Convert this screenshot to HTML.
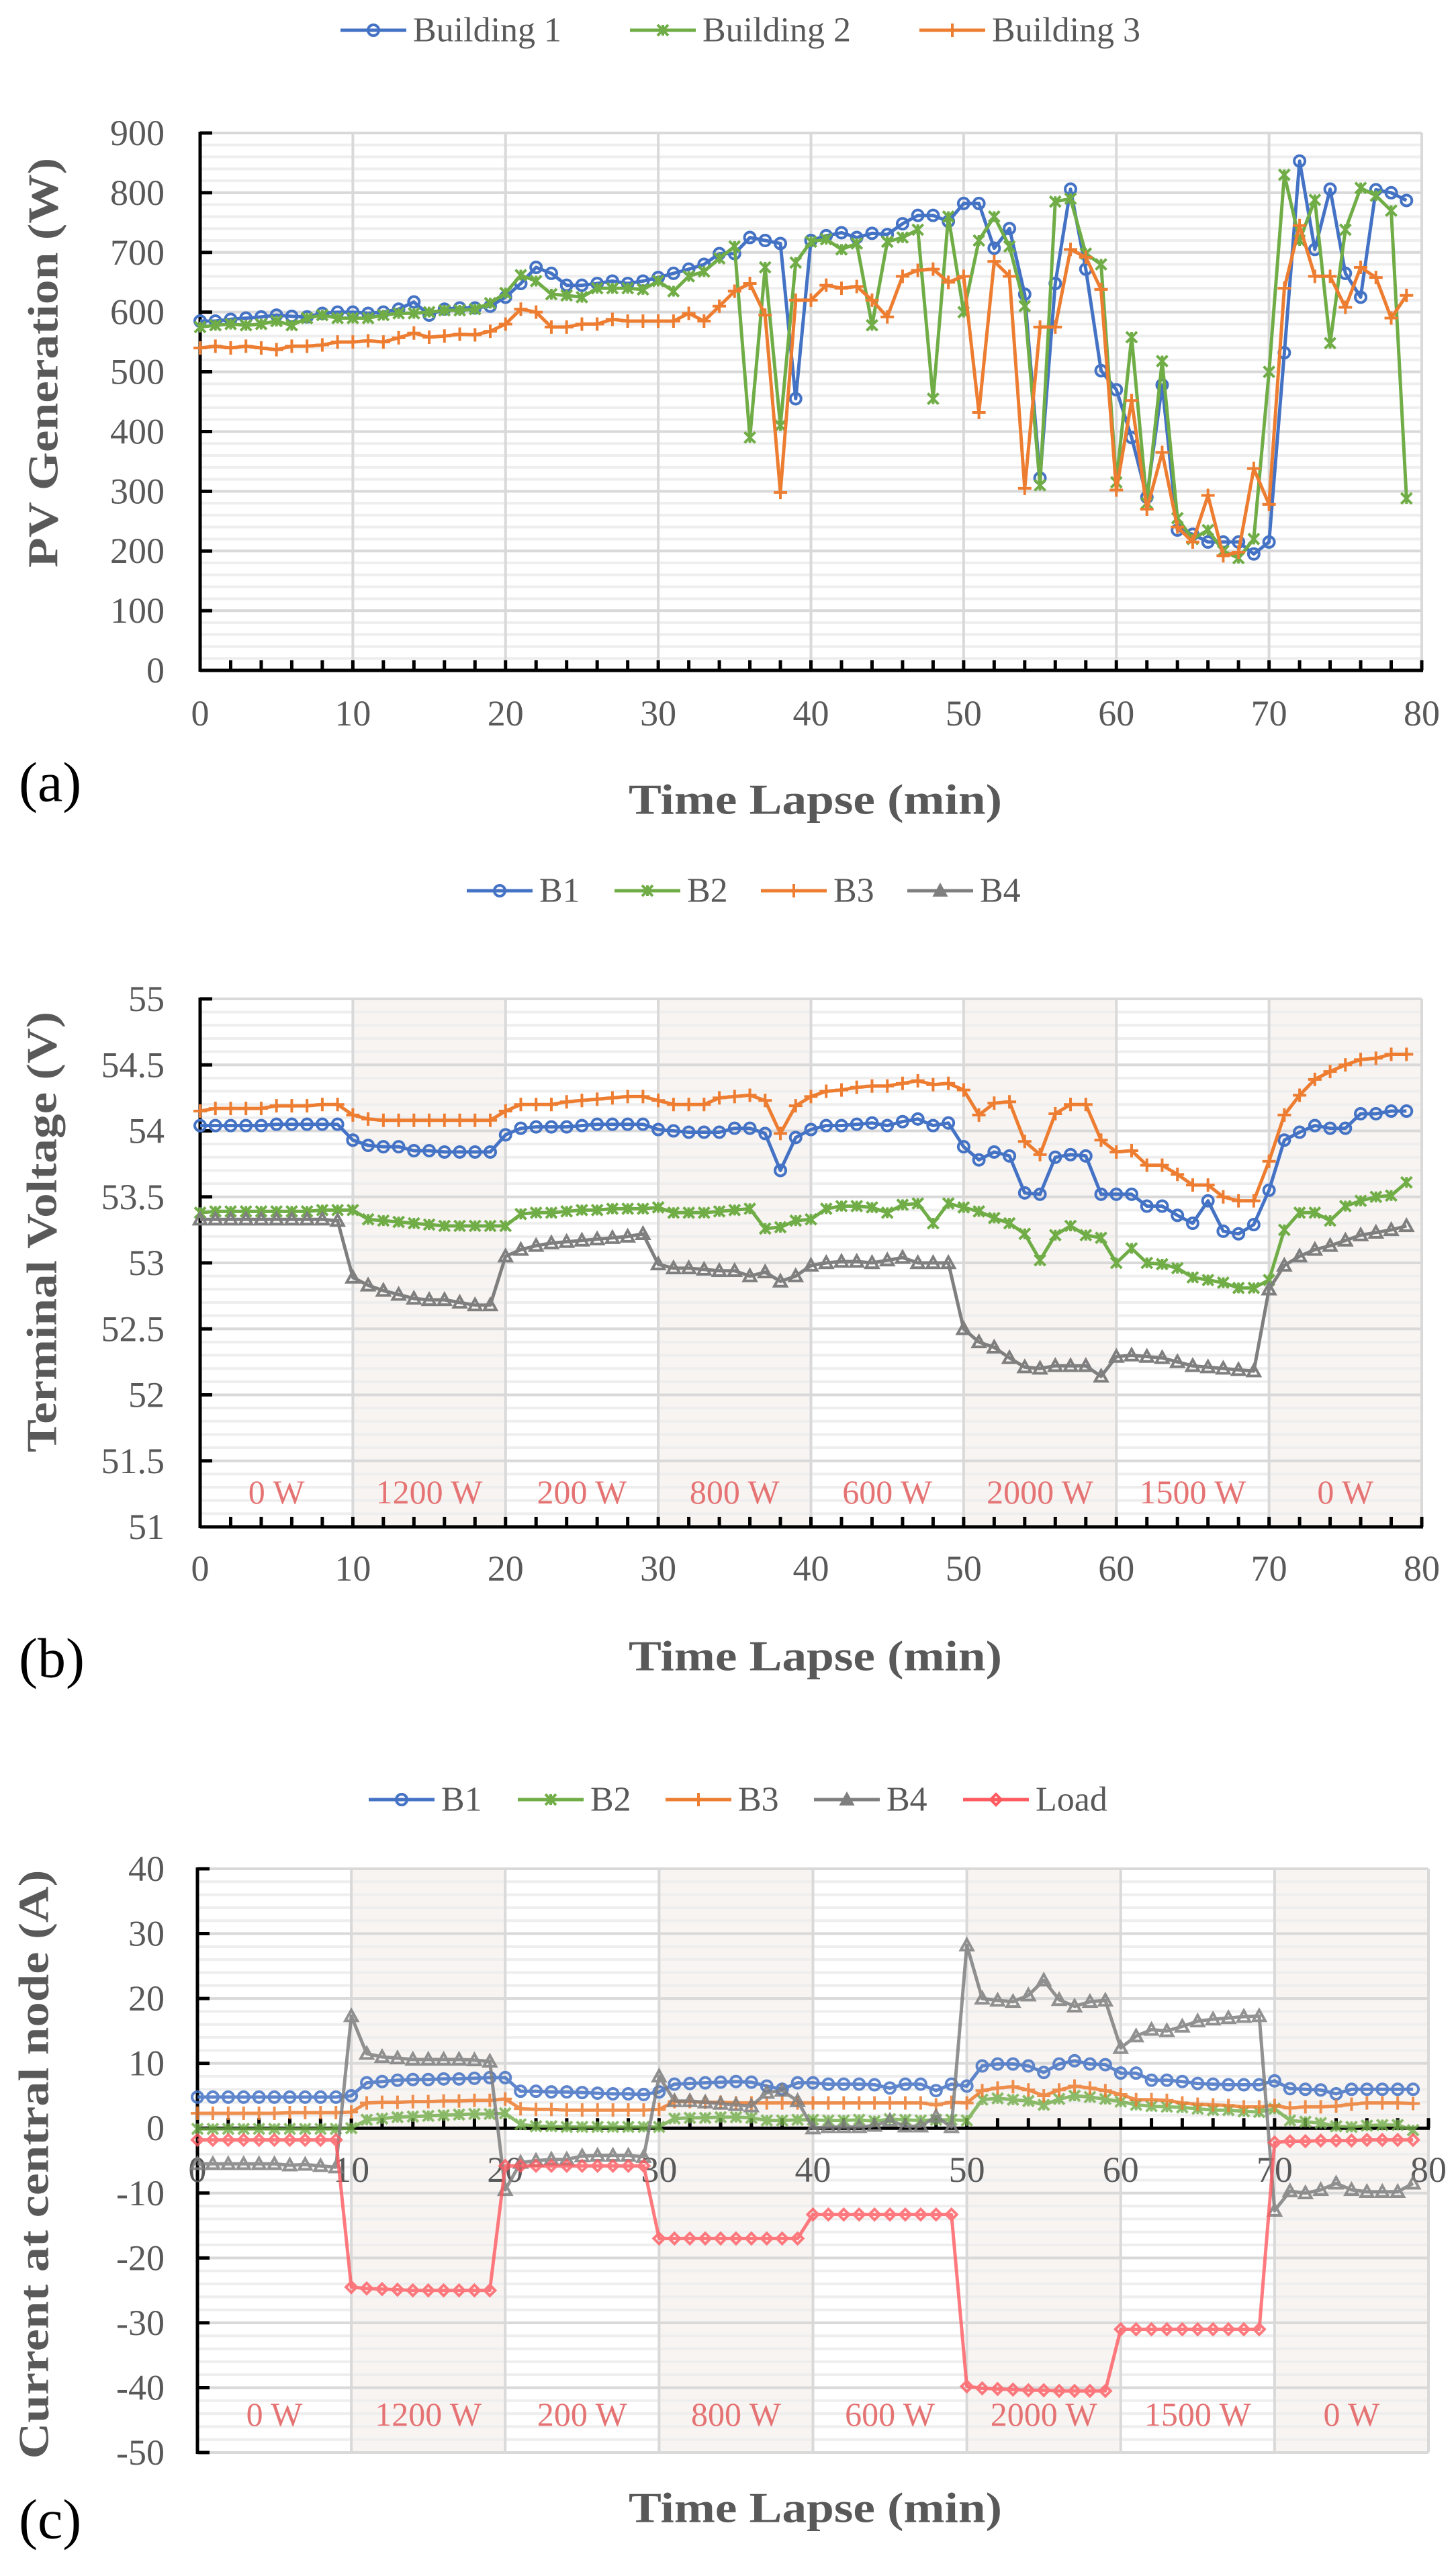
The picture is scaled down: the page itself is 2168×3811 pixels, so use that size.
<!DOCTYPE html>
<html><head><meta charset="utf-8"><title>PV charts</title>
<style>
html,body{margin:0;padding:0;background:#fff;}
svg{display:block;font-family:"Liberation Serif",serif;}
</style></head>
<body>
<svg id="fig" width="2168" height="3811" viewBox="0 0 2168 3811" xmlns="http://www.w3.org/2000/svg"></svg>
<script>
// ---------- data ----------
const minutes = Array.from({length:80},(_,i)=>i);
const loadLabels = ["0 W","1200 W","200 W","800 W","600 W","2000 W","1500 W","0 W"];

const pvB1 = [585,585,588,590,592,595,593,592,598,600,600,598,600,605,617,595,605,607,607,610,625,648,675,665,645,645,648,652,648,652,658,665,672,680,698,698,725,720,715,455,720,728,733,725,732,730,748,762,762,752,782,782,707,740,630,322,648,806,672,502,470,390,290,478,235,228,215,215,215,195,215,532,853,705,806,665,625,805,800,787];
const pvB2 = [575,578,580,578,580,585,578,590,595,590,590,590,595,598,598,600,603,603,605,615,632,662,652,630,628,625,640,640,640,638,652,635,660,668,690,710,390,675,410,683,718,722,705,715,578,718,725,738,455,760,600,720,760,710,610,310,785,790,698,680,315,558,280,518,255,220,235,200,188,220,500,830,720,788,548,738,808,795,770,288];
const pvB3 = [540,543,540,543,540,537,543,543,545,550,550,552,550,557,565,558,560,563,562,568,580,605,600,575,575,580,580,588,585,585,585,585,598,585,610,635,648,595,298,620,620,645,640,643,620,592,660,670,672,650,660,432,685,660,305,575,575,705,692,638,302,452,270,365,240,215,293,192,198,338,278,640,745,660,660,608,675,658,590,628];
const pvTicks = [0,100,200,300,400,500,600,700,800,900];

const vB1 = [54.04,54.04,54.04,54.04,54.04,54.05,54.05,54.05,54.05,54.05,53.93,53.89,53.88,53.88,53.85,53.85,53.84,53.84,53.84,53.84,53.97,54.02,54.03,54.03,54.03,54.04,54.05,54.05,54.05,54.05,54.01,54.0,53.99,53.99,53.99,54.02,54.02,53.98,53.7,53.95,54.01,54.04,54.04,54.05,54.06,54.04,54.07,54.09,54.04,54.06,53.88,53.78,53.84,53.81,53.53,53.52,53.8,53.82,53.81,53.52,53.52,53.52,53.43,53.43,53.36,53.3,53.47,53.24,53.22,53.29,53.55,53.93,53.99,54.04,54.02,54.02,54.13,54.13,54.15,54.15];
const vB2 = [53.38,53.39,53.39,53.39,53.39,53.39,53.39,53.39,53.4,53.4,53.4,53.33,53.32,53.31,53.3,53.29,53.28,53.28,53.28,53.28,53.28,53.37,53.38,53.38,53.39,53.4,53.4,53.41,53.41,53.41,53.42,53.38,53.38,53.38,53.39,53.4,53.41,53.26,53.27,53.32,53.33,53.41,53.43,53.43,53.42,53.38,53.44,53.45,53.3,53.45,53.42,53.39,53.34,53.3,53.22,53.02,53.21,53.28,53.21,53.19,53.0,53.11,53.0,52.99,52.96,52.89,52.87,52.85,52.81,52.81,52.87,53.25,53.38,53.38,53.32,53.43,53.47,53.5,53.51,53.61];
const vB3 = [54.15,54.17,54.17,54.17,54.17,54.19,54.19,54.19,54.2,54.2,54.12,54.09,54.08,54.08,54.08,54.08,54.08,54.08,54.08,54.08,54.15,54.2,54.2,54.2,54.22,54.23,54.24,54.25,54.26,54.26,54.23,54.2,54.2,54.2,54.25,54.26,54.27,54.23,53.98,54.19,54.26,54.3,54.31,54.33,54.34,54.34,54.36,54.38,54.35,54.36,54.31,54.12,54.21,54.22,53.92,53.82,54.13,54.2,54.2,53.93,53.84,53.85,53.74,53.74,53.67,53.59,53.59,53.5,53.47,53.47,53.77,54.12,54.27,54.39,54.45,54.5,54.54,54.55,54.58,54.58];
const vB4 = [53.33,53.33,53.33,53.33,53.33,53.33,53.33,53.33,53.33,53.32,52.89,52.83,52.79,52.76,52.73,52.72,52.72,52.7,52.68,52.68,53.05,53.1,53.13,53.15,53.16,53.17,53.18,53.19,53.2,53.22,52.99,52.96,52.96,52.95,52.94,52.94,52.9,52.93,52.86,52.9,52.98,53.0,53.01,53.01,53.0,53.02,53.04,53.0,53.0,53.0,52.5,52.4,52.36,52.28,52.21,52.2,52.22,52.22,52.22,52.14,52.29,52.3,52.29,52.28,52.25,52.22,52.21,52.2,52.19,52.18,52.8,52.98,53.05,53.1,53.13,53.17,53.21,53.23,53.25,53.28];
const vTicks = [51,51.5,52,52.5,53,53.5,54,54.5,55];

const iB1 = [4.8,4.8,4.8,4.8,4.8,4.8,4.8,4.8,4.8,4.8,5.0,7.0,7.2,7.4,7.5,7.5,7.6,7.6,7.7,7.8,7.8,5.7,5.7,5.6,5.6,5.5,5.4,5.3,5.3,5.2,5.6,6.8,6.9,7.0,7.1,7.2,7.1,6.5,6.0,7.0,7.0,6.8,6.8,6.8,6.7,6.2,6.8,6.8,5.8,6.8,6.5,9.6,9.9,9.9,9.6,8.6,9.9,10.4,9.9,9.8,8.5,8.5,7.4,7.4,7.2,6.9,6.8,6.7,6.7,6.7,7.3,6.1,6.0,5.9,5.3,6.0,6.0,6.0,6.0,6.0];
const iB2 = [-0.1,-0.1,-0.1,-0.1,-0.1,-0.1,-0.1,-0.1,-0.1,-0.1,0,1.3,1.5,1.7,1.8,1.9,2.0,2.1,2.2,2.2,2.3,0.6,0.3,0.3,0.2,0.2,0.2,0.2,0.2,0.2,0.2,1.5,1.6,1.6,1.7,1.7,1.6,1.2,1.2,1.3,1.3,1.2,1.2,1.3,1.1,1.4,1.3,1.2,1.3,1.3,1.2,4.4,4.6,4.4,4.2,3.6,4.5,5.0,4.8,4.5,4.1,3.6,3.4,3.3,3.2,3.0,2.8,2.8,2.6,2.5,3.0,1.2,1.0,0.8,0.3,0.2,0.4,0.5,0.5,-0.3];
const iB3 = [2.3,2.3,2.3,2.3,2.3,2.3,2.4,2.4,2.4,2.4,2.5,3.9,4.0,4.0,4.1,4.1,4.2,4.2,4.3,4.3,4.5,3.0,2.9,2.9,2.8,2.8,2.8,2.8,2.8,2.8,2.9,4.1,4.1,4.0,4.0,3.9,3.9,3.9,3.9,3.9,3.9,3.9,3.9,3.9,3.9,3.9,3.9,3.9,3.6,4.0,3.9,5.8,6.2,6.4,5.9,5.0,5.9,6.5,6.2,5.8,5.2,4.4,4.4,4.3,3.9,3.7,3.6,3.5,3.3,3.3,3.5,3.1,3.3,3.3,3.4,3.7,3.9,3.9,3.9,3.8];
const iB4 = [-5.5,-5.5,-5.5,-5.5,-5.5,-5.5,-5.7,-5.6,-5.8,-6.0,17.3,11.5,11.0,10.8,10.6,10.6,10.6,10.6,10.5,10.3,-9.5,-5.3,-5.0,-4.8,-4.8,-4.3,-4.2,-4.2,-4.2,-4.4,8.0,4.2,4.2,4.0,3.8,3.6,3.4,5.5,5.8,4.2,0,0.2,0.2,0.2,0.4,1.2,0.3,0.3,1.8,0.2,28.2,20.0,19.7,19.5,20.5,22.8,19.8,18.8,19.5,19.7,12.4,14.2,15.2,15.0,15.7,16.5,16.8,17.0,17.2,17.3,-12.7,-9.7,-10.0,-9.5,-8.5,-9.5,-9.8,-9.8,-9.8,-8.5];
const iLoad = [-1.8,-1.8,-1.8,-1.8,-1.8,-1.8,-1.8,-1.8,-1.8,-1.8,-24.5,-24.7,-24.8,-24.9,-25,-25,-25,-25,-25,-25,-5.8,-5.8,-5.8,-5.8,-5.8,-5.8,-5.8,-5.8,-5.8,-5.8,-17,-17,-17,-17,-17,-17,-17,-17,-17,-17,-13.3,-13.3,-13.3,-13.3,-13.3,-13.3,-13.3,-13.3,-13.3,-13.3,-39.8,-40.1,-40.2,-40.3,-40.4,-40.4,-40.5,-40.5,-40.5,-40.5,-31,-31,-31,-31,-31,-31,-31,-31,-31,-31,-2.2,-2.0,-2.0,-1.9,-1.9,-1.9,-1.8,-1.8,-1.8,-1.8];
const iTicks = [-50,-40,-30,-20,-10,0,10,20,30,40];
const xTicks = [0,10,20,30,40,50,60,70,80];

// ---------- drawing ----------
const NS = "http://www.w3.org/2000/svg";
const svg = document.getElementById("fig");
function mk(tag, attrs, parent){
  const e = document.createElementNS(NS, tag);
  for (const k in attrs) e.setAttribute(k, attrs[k]);
  (parent||svg).appendChild(e);
  return e;
}
const GRAY = "#595959";

function marker(g, kind, x, y, color){
  let m;
  if (kind==="circle"){ m = mk("circle",{cx:x,cy:y,r:8,fill:"none",stroke:color,"stroke-width":4},g); }
  else if (kind==="star"){ const s=8; m = mk("path",{d:`M${x-s} ${y-s}L${x+s} ${y+s}M${x-s} ${y+s}L${x+s} ${y-s}M${x} ${y-s}L${x} ${y+s}`,stroke:color,"stroke-width":4,fill:"none"},g); }
  else if (kind==="plus"){ const s=10; m = mk("path",{d:`M${x-s} ${y}L${x+s} ${y}M${x} ${y-s}L${x} ${y+s}`,stroke:color,"stroke-width":4,fill:"none"},g); }
  else if (kind==="tri"){ const s=9; m = mk("path",{d:`M${x} ${y-s}L${x+s} ${y+s*0.8}L${x-s} ${y+s*0.8}Z`,stroke:color,"stroke-width":4,fill:"none"},g); }
  else if (kind==="triFill"){ const s=9; m = mk("path",{d:`M${x} ${y-s}L${x+s} ${y+s*0.8}L${x-s} ${y+s*0.8}Z`,stroke:color,"stroke-width":3,fill:color},g); }
  else { const s=8; m = mk("path",{d:`M${x} ${y-s}L${x+s} ${y}L${x} ${y+s}L${x-s} ${y}Z`,stroke:color,"stroke-width":4,fill:"none"},g); }
  return m;
}

function drawChart(c){
  const g = mk("g",{});
  
  
  const xs = t => c.x0 + (t/80)*(c.x1-c.x0);
  const ys = v => c.yB + (v-c.vMin)/(c.vMax-c.vMin)*(c.yT-c.yB);
  // shading
  if (c.shade){
    [10,30,50,70].forEach(s=>{
      const r = mk("rect",{x:xs(s),y:c.yT,width:xs(s+10)-xs(s),height:c.yB-c.yT,fill:"#f8f4f2"},g);
      
      
    });
  }
  // minor grid
  for (let v=c.vMin; v<=c.vMax+1e-9; v+=c.minor){
    mk("line",{x1:c.x0,x2:c.x1,y1:ys(v),y2:ys(v),stroke:"#eeeeee","stroke-width":4},g);
  }
  c.yTicks.forEach(v=>{
    const l = mk("line",{x1:c.x0,x2:c.x1,y1:ys(v),y2:ys(v),stroke:"#d9d9d9","stroke-width":4},g);
    
    
  });
  xTicks.forEach(t=>{ if(t>0) mk("line",{x1:xs(t),x2:xs(t),y1:c.yT,y2:c.yB,stroke:"#d9d9d9","stroke-width":4},g); });
  // load labels
  if (c.loads){
    loadLabels.forEach((s,i)=>{
      const t = mk("text",{x:xs(i*10+5),y:c.loadY,"text-anchor":"middle","dominant-baseline":"central","font-size":50,fill:"#e57373"},g);
      t.textContent = s;
      
      
    });
  }
  // axes
  const axY = ys(c.axisV);
  const ya = mk("line",{x1:c.x0,x2:c.x0,y1:c.yT-2,y2:c.yB+2,stroke:"#000","stroke-width":5},g);
  
  
  c.yTicks.forEach(v=> mk("line",{x1:c.x0,x2:c.x0+18,y1:ys(v),y2:ys(v),stroke:"#000","stroke-width":5},g));
  const xa = mk("line",{x1:c.x0,x2:c.x1+2,y1:axY,y2:axY,stroke:"#000","stroke-width":5},g);
  
  
  for (let t=0;t<=80;t+=2) mk("line",{x1:xs(t),x2:xs(t),y1:axY,y2:axY-15,stroke:"#000","stroke-width":5},g);
  // tick labels
  c.yTicks.forEach(v=>{
    const t = mk("text",{x:245,y:ys(v),"text-anchor":"end","dominant-baseline":"central","font-size":54,fill:GRAY},g);
    t.textContent = String(v);
    
    
  });
  xTicks.forEach(v=>{
    const t = mk("text",{x:xs(v),y:c.xLabY,"text-anchor":"middle","dominant-baseline":"central","font-size":54,fill:GRAY},g);
    t.textContent = String(v);
    
    
  });
  // series
  c.series.forEach(s=>{
    const sg = mk("g",{opacity:s.op||1},g);
    
    
    const pts = s.data.map((v,i)=>xs(minutes[i]).toFixed(1)+","+ys(v).toFixed(1)).join(" ");
    mk("polyline",{points:pts,fill:"none",stroke:s.color,"stroke-width":5,"stroke-linejoin":"round"},sg);
    s.data.forEach((v,i)=>{
      const m = marker(sg, s.mk, xs(minutes[i]), ys(v), s.color);
      
      
    });
  });
  // legend
  c.series.forEach((s,i)=>{
    const lx = c.legX[i];
    const lg = mk("g",{},g);
    
    
    mk("line",{x1:lx,x2:lx+98,y1:c.legY,y2:c.legY,stroke:s.color,"stroke-width":5},lg);
    marker(lg, s.mk==="tri"?"triFill":s.mk, lx+49, c.legY, s.color);
    const t = mk("text",{x:lx+108,y:c.legY,"dominant-baseline":"central","font-size":52,fill:GRAY},lg);
    t.textContent = s.label;
  });
  // titles
  const yt = mk("text",{x:0,y:0,transform:`translate(${c.ytX},${c.ytY}) rotate(-90)`,"text-anchor":"middle","dominant-baseline":"central","font-size":64,"font-weight":"bold",fill:GRAY,textLength:c.ytLen,lengthAdjust:"spacingAndGlyphs"},g);
  yt.textContent = c.yTitle;
  
  
  const xt = mk("text",{x:1214,y:c.xtY,"text-anchor":"middle","dominant-baseline":"central","font-size":64,"font-weight":"bold",fill:GRAY,textLength:556,lengthAdjust:"spacingAndGlyphs"},g);
  xt.textContent = "Time Lapse (min)";
  
  
  const pl = mk("text",{x:28,y:c.panelY,"dominant-baseline":"central","font-size":84,fill:"#000"},g);
  pl.textContent = c.panel;
  
  
}

drawChart({name:"pv-generation-chart",x0:298,x1:2117,yT:198,yB:998,vMin:0,vMax:900,minor:20,yTicks:pvTicks,axisV:0,xLabY:1062,
  series:[{label:"Building 1",data:pvB1,color:"#4472c4",mk:"circle"},{label:"Building 2",data:pvB2,color:"#70ad47",mk:"star"},{label:"Building 3",data:pvB3,color:"#ed7d31",mk:"plus"}],
  legX:[507,938,1369],legY:45,yTitle:"PV Generation (W)",ytX:64,ytY:540,ytLen:610,xtY:1190,panel:"(a)",panelY:1165});

drawChart({name:"terminal-voltage-chart",x0:298,x1:2117,yT:1487,yB:2273,vMin:51,vMax:55,minor:0.1,yTicks:vTicks,axisV:51,xLabY:2335,shade:true,loads:true,loadY:2221,
  series:[{label:"B1",data:vB1,color:"#4472c4",mk:"circle"},{label:"B2",data:vB2,color:"#70ad47",mk:"star"},{label:"B3",data:vB3,color:"#ed7d31",mk:"plus"},{label:"B4",data:vB4,color:"#7f7f7f",mk:"tri"}],
  legX:[695,915,1133,1351],legY:1326,yTitle:"Terminal Voltage (V)",ytX:62,ytY:1834,ytLen:656,xtY:2465,panel:"(b)",panelY:2469});

drawChart({name:"central-node-current-chart",x0:294,x1:2127,yT:2782,yB:3651,vMin:-50,vMax:40,minor:2,yTicks:iTicks,axisV:0,xLabY:3230,shade:true,loads:true,loadY:3594,
  series:[{label:"B1",data:iB1,color:"#4472c4",mk:"circle",op:0.85},{label:"B2",data:iB2,color:"#70ad47",mk:"star",op:0.8},{label:"B3",data:iB3,color:"#ed7d31",mk:"plus",op:0.85},{label:"B4",data:iB4,color:"#7f7f7f",mk:"tri",op:0.85},{label:"Load",data:iLoad,color:"#ff5a5f",mk:"diamond",op:0.8}],
  legX:[549,771,991,1212,1434],legY:2679,yTitle:"Current at central node  (A)",ytX:50,ytY:3222,ytLen:877,xtY:3733,panel:"(c)",panelY:3751});
</script>
</body></html>
